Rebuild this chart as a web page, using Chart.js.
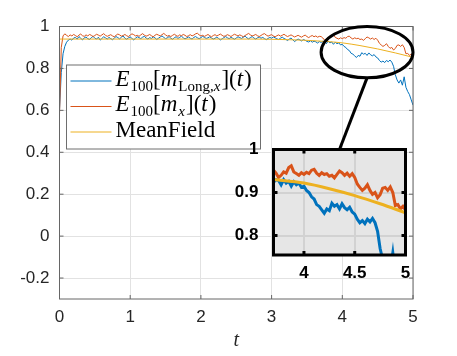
<!DOCTYPE html>
<html>
<head>
<meta charset="utf-8">
<title>E100 magnetisation vs MeanField</title>
<script src="https://cdn.jsdelivr.net/npm/chart.js"></script>
<style>
    html, body { margin: 0; padding: 0; background: #fff; }
    .wrap { position: relative; width: 457px; height: 356px; }
    .wrap canvas { position: absolute; left: 0; top: 0; }
</style>
</head>
<body>
<div class="wrap">
    <canvas id="mainChart" width="457" height="356"></canvas>
    <canvas id="insetChart" width="457" height="356"></canvas>
</div>
<script>
// sample times (t)
const times = [
    0, 0.025, 0.05, 0.075, 0.1, 0.125, 0.15, 0.175,
    0.2, 0.225, 0.25, 0.275, 0.3, 0.325, 0.35, 0.375,
    0.4, 0.425, 0.45, 0.475, 0.5, 0.525, 0.55, 0.575,
    0.6, 0.625, 0.65, 0.675, 0.7, 0.725, 0.75, 0.775,
    0.8, 0.825, 0.85, 0.875, 0.9, 0.925, 0.95, 0.975,
    1, 1.025, 1.05, 1.075, 1.1, 1.125, 1.15, 1.175,
    1.2, 1.225, 1.25, 1.275, 1.3, 1.325, 1.35, 1.375,
    1.4, 1.425, 1.45, 1.475, 1.5, 1.525, 1.55, 1.575,
    1.6, 1.625, 1.65, 1.675, 1.7, 1.725, 1.75, 1.775,
    1.8, 1.825, 1.85, 1.875, 1.9, 1.925, 1.95, 1.975,
    2, 2.025, 2.05, 2.075, 2.1, 2.125, 2.15, 2.175,
    2.2, 2.225, 2.25, 2.275, 2.3, 2.325, 2.35, 2.375,
    2.4, 2.425, 2.45, 2.475, 2.5, 2.525, 2.55, 2.575,
    2.6, 2.625, 2.65, 2.675, 2.7, 2.725, 2.75, 2.775,
    2.8, 2.825, 2.85, 2.875, 2.9, 2.925, 2.95, 2.975,
    3, 3.025, 3.05, 3.075, 3.1, 3.125, 3.15, 3.175,
    3.2, 3.225, 3.25, 3.275, 3.3, 3.325, 3.35, 3.375,
    3.4, 3.425, 3.45, 3.475, 3.5, 3.525, 3.55, 3.575,
    3.6, 3.625, 3.65, 3.675, 3.7, 3.725, 3.75, 3.775,
    3.8, 3.825, 3.85, 3.875, 3.9, 3.925, 3.95, 3.975,
    4, 4.025, 4.05, 4.075, 4.1, 4.125, 4.15, 4.175,
    4.2, 4.225, 4.25, 4.275, 4.3, 4.325, 4.35, 4.375,
    4.4, 4.425, 4.45, 4.475, 4.5, 4.525, 4.55, 4.575,
    4.6, 4.625, 4.65, 4.675, 4.7, 4.725, 4.75, 4.775,
    4.8, 4.825, 4.85, 4.875, 4.9, 4.925, 4.95, 4.975,
    5
];

// E100[m_Long,x](t)
const longValues = [
    0.60, 0.78, 0.87, 0.905, 0.925, 0.935, 0.94, 0.935, 0.945,
    0.948, 0.94, 0.952, 0.944, 0.936, 0.946, 0.95, 0.942, 0.938, 0.947,
    0.953, 0.944, 0.94, 0.949, 0.935, 0.943, 0.951, 0.946, 0.94, 0.948,
    0.942, 0.937, 0.945, 0.952, 0.947, 0.941, 0.949, 0.955, 0.944, 0.939,
    0.946, 0.95, 0.943, 0.936, 0.944, 0.951, 0.947, 0.942, 0.949, 0.953,
    0.945, 0.94, 0.947, 0.943, 0.951, 0.946, 0.938, 0.944, 0.95, 0.955,
    0.948, 0.942, 0.946, 0.952, 0.944, 0.939, 0.947, 0.951, 0.943, 0.948,
    0.954, 0.946, 0.941, 0.945, 0.95, 0.944, 0.94, 0.948, 0.952, 0.946,
    0.942, 0.947, 0.953, 0.948, 0.943, 0.946, 0.951, 0.945, 0.94, 0.944,
    0.949, 0.943, 0.936, 0.941, 0.947, 0.952, 0.946, 0.942, 0.948, 0.944,
    0.939, 0.945, 0.951, 0.947, 0.943, 0.949, 0.954, 0.946, 0.941, 0.947,
    0.952, 0.945, 0.94, 0.946, 0.95, 0.944, 0.948, 0.942, 0.937, 0.943,
    0.948, 0.944, 0.95, 0.946, 0.941, 0.938, 0.944, 0.949, 0.943, 0.939,
    0.933, 0.94, 0.945, 0.937, 0.928, 0.935, 0.94, 0.936, 0.931, 0.938,
    0.934, 0.929, 0.926, 0.932, 0.925, 0.93, 0.927, 0.921, 0.928,
    0.924, 0.93,
    0.928, 0.918, 0.93, 0.922, 0.926, 0.915, 0.925, 0.918, 0.922, 0.912,
    0.915, 0.905, 0.9, 0.89, 0.885, 0.872, 0.868, 0.86, 0.852, 0.862,
    0.858, 0.875, 0.868, 0.872, 0.862, 0.874, 0.865, 0.86, 0.866, 0.855,
    0.85, 0.838, 0.83, 0.835, 0.828, 0.838, 0.832, 0.84, 0.83, 0.81,
    0.77, 0.745, 0.73, 0.745, 0.72, 0.76, 0.71, 0.69, 0.675, 0.65,
    0.625
];

// E100[m_x](t)
const mxValues = [
    0.58, 0.9, 0.955, 0.965, 0.958, 0.952,
    0.96, 0.955, 0.962, 0.957, 0.951, 0.959, 0.964, 0.956, 0.953, 0.96,
    0.955, 0.962, 0.958, 0.952, 0.957, 0.963, 0.959, 0.954, 0.96, 0.966,
    0.958, 0.953, 0.957, 0.961, 0.955, 0.951, 0.958, 0.964, 0.96, 0.954,
    0.957, 0.962, 0.956, 0.952, 0.959, 0.965, 0.961, 0.955, 0.958, 0.953,
    0.96, 0.966, 0.959, 0.954, 0.957, 0.962, 0.956, 0.951, 0.958, 0.963,
    0.959, 0.955, 0.961, 0.967, 0.96, 0.954, 0.957, 0.952, 0.958, 0.963,
    0.957, 0.953, 0.96, 0.956, 0.962, 0.958, 0.952, 0.956, 0.961, 0.955,
    0.959, 0.965, 0.968, 0.96, 0.955, 0.958, 0.953, 0.957, 0.962, 0.956,
    0.951, 0.957, 0.961, 0.955, 0.959, 0.964, 0.958, 0.953, 0.956, 0.961,
    0.957, 0.952, 0.958, 0.963, 0.959, 0.955, 0.96, 0.956, 0.951, 0.957,
    0.962, 0.967, 0.96, 0.955, 0.958, 0.962, 0.956, 0.952, 0.957, 0.963,
    0.966, 0.959, 0.954, 0.958, 0.961, 0.955, 0.951, 0.956, 0.96, 0.954,
    0.958, 0.963, 0.957, 0.952, 0.956, 0.96, 0.955, 0.95, 0.954, 0.958,
    0.953, 0.949, 0.955, 0.959, 0.952, 0.947, 0.953, 0.957, 0.951, 0.955,
    0.949, 0.953,
    0.952, 0.945, 0.935, 0.94, 0.948, 0.945, 0.958, 0.962, 0.948, 0.944,
    0.94, 0.946, 0.942, 0.947, 0.944, 0.952, 0.954, 0.945, 0.94, 0.946,
    0.942, 0.944, 0.938, 0.94, 0.934, 0.942, 0.95, 0.946, 0.94, 0.945,
    0.938, 0.944, 0.935, 0.92, 0.912, 0.905, 0.91, 0.918, 0.905, 0.896,
    0.9, 0.888, 0.895, 0.91, 0.912, 0.905, 0.913, 0.9, 0.87, 0.872,
    0.862, 0.868, 0.86
];

// MeanField (smooth curve)
const meanFieldTimes = [0, 0.25, 0.5, 0.75, 1, 1.25, 1.5, 1.75, 2, 2.25, 2.5, 2.75, 3, 3.25, 3.5, 3.75, 4, 4.25, 4.5, 4.75, 5];
const meanFieldValues = [0.94, 0.94, 0.94, 0.94, 0.94, 0.94, 0.94, 0.94, 0.94, 0.94, 0.94, 0.94, 0.939, 0.937, 0.934, 0.929, 0.922, 0.909, 0.893, 0.874, 0.853];

const xTicks = [0, 1, 2, 3, 4, 5];
const yTicks = [-0.2, 0, 0.2, 0.4, 0.6, 0.8, 1];
const insetXTicks = [4, 4.5, 5];
const insetYTicks = [0.8, 0.9, 1];
const insetRange = { tMin: 3.7, tMax: 5, yMin: 0.755, yMax: 1 };
const seriesNames = ['E100[mLong,x](t)', 'E100[mx](t)', 'MeanField'];

const BLUE = '#0072BD';
const RED = '#D95319';
const GOLD = '#EDB120';
const TEXT = '#262626';

function toPoints(xs, ys) {
    return xs.map((x, i) => ({ x: x, y: ys[i] }));
}

function fmt(v) {
    return String(Math.round(v * 10) / 10);
}

function makeDatasets(width) {
    return [
        { label: seriesNames[0], data: toPoints(times, longValues), borderColor: BLUE, borderWidth: width, pointRadius: 0, order: 2 },
        { label: seriesNames[1], data: toPoints(times, mxValues), borderColor: RED, borderWidth: width, pointRadius: 0, order: 1 },
        { label: seriesNames[2], data: toPoints(meanFieldTimes, meanFieldValues), borderColor: GOLD, borderWidth: width, pointRadius: 0, order: 0, cubicInterpolationMode: 'monotone' }
    ];
}

// box + inward ticks on all four sides, matlab style
function boxPlugin(color, width, tickLen) {
    return {
        id: 'box',
        afterDatasetsDraw(chart) {
            const { ctx, chartArea: a, scales } = chart;
            ctx.save();
            ctx.strokeStyle = color;
            ctx.lineWidth = width;
            ctx.beginPath();
            scales.x.ticks.forEach(t => {
                const px = scales.x.getPixelForValue(t.value);
                ctx.moveTo(px, a.bottom); ctx.lineTo(px, a.bottom - tickLen);
                ctx.moveTo(px, a.top); ctx.lineTo(px, a.top + tickLen);
            });
            scales.y.ticks.forEach(t => {
                const py = scales.y.getPixelForValue(t.value);
                ctx.moveTo(a.left, py); ctx.lineTo(a.left + tickLen, py);
                ctx.moveTo(a.right, py); ctx.lineTo(a.right - tickLen, py);
            });
            ctx.stroke();
            ctx.strokeRect(a.left, a.top, a.right - a.left, a.bottom - a.top);
            ctx.restore();
        }
    };
}

// ellipse marking the zoomed region
const zoomMark = {
    id: 'zoomMark',
    afterDatasetsDraw(chart) {
        const { ctx, scales: { x, y } } = chart;
        const x0 = x.getPixelForValue(insetRange.tMin), x1 = x.getPixelForValue(insetRange.tMax);
        const y0 = y.getPixelForValue(insetRange.yMax), y1 = y.getPixelForValue(insetRange.yMin);
        ctx.save();
        ctx.strokeStyle = '#000';
        ctx.lineWidth = 3;
        ctx.beginPath();
        ctx.ellipse((x0 + x1) / 2, (y0 + y1) / 2, (x1 - x0) / 2, (y1 - y0) / 2, 0, 0, Math.PI * 2);
        ctx.stroke();
        ctx.restore();
    }
};

// legend with sub/superscripts
const legendRows = [
    { color: BLUE, parts: [['E', 'i'], ['100', 's'], ['['], ['m', 'i'], ['Long,', 's'], ['x', 'si'], [']('], ['t', 'i'], [')']] },
    { color: RED, parts: [['E', 'i'], ['100', 's'], ['['], ['m', 'i'], ['x', 'si'], [']('], ['t', 'i'], [')']] },
    { color: GOLD, parts: [['MeanField']] }
];

const mathLegend = {
    id: 'mathLegend',
    afterDraw(chart) {
        const { ctx, chartArea: a } = chart;
        const left = a.left + 7, top = a.top + 38.5, w = 194, h = 84;
        ctx.save();
        ctx.fillStyle = '#fff';
        ctx.fillRect(left, top, w, h);
        ctx.strokeStyle = '#6e6e6e';
        ctx.lineWidth = 1;
        ctx.strokeRect(left, top, w, h);
        legendRows.forEach((row, i) => {
            const base = top + 20.5 + i * 25.5;
            ctx.strokeStyle = row.color;
            ctx.lineWidth = 1;
            ctx.beginPath();
            ctx.moveTo(left + 4, base - 4.5);
            ctx.lineTo(left + 45, base - 4.5);
            ctx.stroke();
            ctx.fillStyle = '#000';
            ctx.textBaseline = 'alphabetic';
            let cx = left + 49;
            row.parts.forEach(([text, kind]) => {
                const sub = kind === 's' || kind === 'si';
                const ital = kind === 'i' || kind === 'si';
                const size = sub ? 15 : 23;
                ctx.font = (ital ? 'italic ' : '') + size + 'px "Liberation Serif"';
                ctx.fillText(text, cx, base + (sub ? 5 : 0));
                cx += ctx.measureText(text).width + (ital ? 1 : 0);
            });
        });
        ctx.restore();
    }
};

const tickFont = { family: 'Liberation Sans', size: 17 };

const mainChart = new Chart(document.getElementById('mainChart'), {
    type: 'line',
    data: { datasets: makeDatasets(1) },
    options: {
        responsive: false,
        animation: false,
        layout: { padding: { top: 26.5, right: 44, left: 0, bottom: 0 } },
        plugins: { legend: { display: false }, tooltip: { enabled: false } },
        scales: {
            x: {
                type: 'linear', min: 0, max: 5,
                afterBuildTicks: s => { s.ticks = xTicks.map(value => ({ value })); },
                afterFit: s => { s.height = 57; },
                grid: { color: '#e2e2e2', drawTicks: false },
                border: { display: false },
                ticks: { padding: 8, font: tickFont, color: TEXT, maxRotation: 0, callback: v => fmt(v) },
                title: { display: true, text: 't', color: TEXT, font: { family: 'Liberation Serif', style: 'italic', size: 20 }, padding: { top: 0, bottom: 3 } }
            },
            y: {
                type: 'linear', min: -0.3, max: 1,
                afterBuildTicks: s => { s.ticks = yTicks.map(value => ({ value })); },
                afterFit: s => { s.width = 59.5; },
                grid: { color: '#e2e2e2', drawTicks: false },
                border: { display: false },
                ticks: { padding: 10, font: tickFont, color: TEXT, callback: v => fmt(v) }
            }
        }
    },
    plugins: [boxPlugin('#666', 1, 4), zoomMark, mathLegend]
});

// inset axes: gray background, connector line from the ellipse
const insetDecor = {
    id: 'insetDecor',
    beforeDraw(chart) {
        const { ctx, chartArea: a } = chart;
        ctx.save();
        ctx.fillStyle = '#e6e6e6';
        ctx.fillRect(a.left, a.top, a.right - a.left, a.bottom - a.top);
        ctx.restore();
    },
    afterDraw(chart) {
        const { ctx, chartArea: a } = chart;
        const mx = mainChart.scales.x, my = mainChart.scales.y;
        const tMid = (insetRange.tMin + insetRange.tMax) / 2;
        ctx.save();
        ctx.strokeStyle = '#000';
        ctx.lineWidth = 3;
        ctx.beginPath();
        ctx.moveTo(mx.getPixelForValue(tMid), my.getPixelForValue(insetRange.yMin));
        ctx.lineTo(chart.scales.x.getPixelForValue(tMid), a.top);
        ctx.stroke();
        ctx.restore();
    }
};

const insetFont = { family: 'Liberation Sans', size: 17, weight: 'bold' };

const insetChart = new Chart(document.getElementById('insetChart'), {
    type: 'line',
    data: { datasets: makeDatasets(3) },
    options: {
        responsive: false,
        animation: false,
        layout: { padding: { top: 149.5, right: 51.5, left: 0, bottom: 0 } },
        plugins: { legend: { display: false }, tooltip: { enabled: false } },
        scales: {
            x: {
                type: 'linear', min: insetRange.tMin, max: insetRange.tMax,
                afterBuildTicks: s => { s.ticks = insetXTicks.map(value => ({ value })); },
                afterFit: s => { s.height = 101; },
                grid: { color: '#d2d2d2', lineWidth: 2, drawTicks: false },
                border: { display: false },
                ticks: { padding: 8, font: insetFont, color: '#000', maxRotation: 0, callback: v => fmt(v) }
            },
            y: {
                type: 'linear', min: insetRange.yMin, max: insetRange.yMax,
                afterBuildTicks: s => { s.ticks = insetYTicks.map(value => ({ value })); },
                afterFit: s => { s.width = 273.5; },
                grid: { color: '#d2d2d2', lineWidth: 2, drawTicks: false },
                border: { display: false },
                ticks: { padding: 15, font: insetFont, color: '#000', callback: v => fmt(v) }
            }
        }
    },
    plugins: [insetDecor, boxPlugin('#000', 3, 4)]
});
</script>
</body>
</html>
